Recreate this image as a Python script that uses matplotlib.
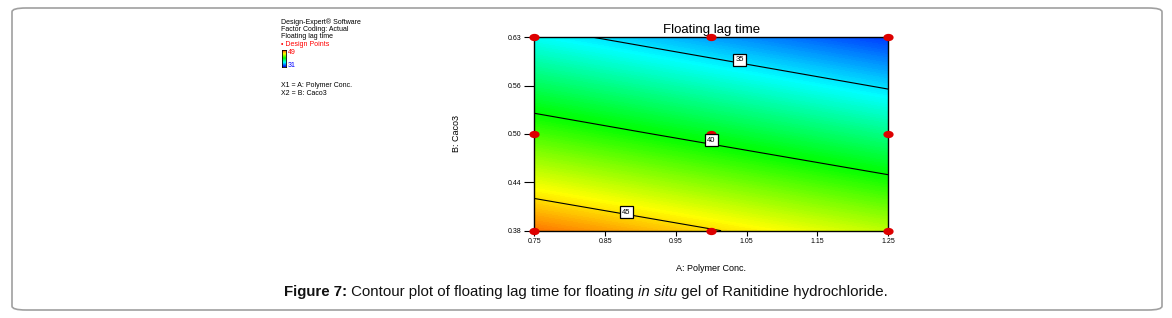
import matplotlib
matplotlib.use("Agg")
import matplotlib.pyplot as plt
import numpy as np
from matplotlib.colors import LinearSegmentedColormap
from matplotlib.markers import MarkerStyle
from matplotlib.transforms import Affine2D
from matplotlib.patches import FancyBboxPatch

plt.rcParams['font.family'] = ['Liberation Sans', 'DejaVu Sans']

# design points (A: polymer conc., B: Caco3) and lag time read at them
polymer = [0.75, 1.00, 1.25]
caco3 = [0.38, 0.505, 0.63]
lag_time = np.array([[46.9, 45.1, 43.3],
                     [41.2, 39.4, 37.6],
                     [35.6, 33.8, 32.0]])  # rows = caco3, cols = polymer
levels = [35, 40, 45]
label_pos = [(1.04, 0.601), (1.0, 0.497), (0.88, 0.404)]
xticks = [0.75, 0.85, 0.95, 1.05, 1.15, 1.25]
yticks = [0.38, 0.4425, 0.505, 0.5675, 0.63]
ytick_labels = ['0.38', '0.44', '0.50', '0.56', '0.63']

cmap = LinearSegmentedColormap.from_list(
    'de', ['#0000ff', '#00ffff', '#00ff00', '#ffff00', '#ff0000'])

fig = plt.figure(figsize=(11.72, 3.18), dpi=100)

# rounded frame around figure + caption
frame = FancyBboxPatch((12/1172, 8/318), 1150/1172, 302/318,
                       boxstyle="round,pad=0,rounding_size=0.012",
                       transform=fig.transFigure, fill=False,
                       edgecolor='#a0a0a0', linewidth=1.2)
fig.patches.append(frame)

ax = fig.add_axes([534.3/1172, 1-230.7/318, 354/1172, 193.4/318])
ax.contourf(polymer, caco3, lag_time, levels=np.linspace(31, 49, 181),
            cmap=cmap, vmin=31, vmax=49, antialiased=False)
cs = ax.contour(polymer, caco3, lag_time, levels=levels, colors='black',
                linewidths=0.8)
for lev, (lx, ly) in zip(levels, label_pos):
    ax.text(lx, ly, str(lev), fontsize=5.5, ha='center', va='center',
            bbox=dict(boxstyle='square,pad=0.3', fc='white', ec='black', lw=0.9),
            zorder=6)

ell = MarkerStyle('o', transform=Affine2D().scale(1.5, 1.0))
A, B = np.meshgrid(polymer, caco3)
ax.scatter(A.ravel(), B.ravel(), marker=ell, s=18, color='#dd0000',
           zorder=5, clip_on=False)

ax.set_xlim(0.75, 1.25)
ax.set_ylim(0.38, 0.63)
ax.set_xticks(xticks)
ax.set_xticklabels([f'{t:.2f}' for t in xticks])
ax.set_yticks(yticks)
ax.set_yticklabels(ytick_labels)
ax.tick_params(labelsize=5, length=3.5, width=0.8, pad=2)
ax.tick_params(axis='y', length=7)
for s in ax.spines.values():
    s.set_linewidth(1.0)
ax.set_title('Floating lag time', fontsize=9.5, pad=3)
ax.set_xlabel('A: Polymer Conc.', fontsize=6.5)
ax.set_ylabel('B: Caco3', fontsize=6.5)
ax.xaxis.set_label_coords(0.5, -0.17)
ax.yaxis.set_label_coords(-0.208, 0.5)

# info block in top-left
info = ['Design-Expert\u00ae Software', 'Factor Coding: Actual', 'Floating lag time']
for i, t in enumerate(info):
    fig.text(281/1172, 1-(22+i*7.3)/318, t, fontsize=5, va='center')
fig.text(281/1172, 1-44/318, '\u2022 Design Points', fontsize=5, va='center',
         color='red')
cb_ax = fig.add_axes([282/1172, 1-67/318, 4/1172, 17/318])
cb_ax.imshow(np.linspace(31, 49, 50)[:, None], origin='lower', aspect='auto',
             cmap=cmap, extent=[0, 1, 0, 1])
cb_ax.set_xticks([])
cb_ax.set_yticks([])
for s in cb_ax.spines.values():
    s.set_linewidth(0.6)
fig.text(288/1172, 1-52/318, '49', fontsize=5, va='center', color='red')
fig.text(288/1172, 1-66/318, '31', fontsize=5, va='center', color='blue')
fig.text(281/1172, 1-86/318, 'X1 = A: Polymer Conc.', fontsize=5, va='center')
fig.text(281/1172, 1-93/318, 'X2 = B: Caco3', fontsize=5, va='center')

# caption, built from pieces so bold / italic stay in Liberation Sans
pieces = [('Figure 7:', 'bold', 'normal'),
          (' Contour plot of floating lag time for floating ', 'normal', 'normal'),
          ('in situ', 'normal', 'italic'),
          (' gel of Ranitidine hydrochloride.', 'normal', 'normal')]
renderer = fig.canvas.get_renderer()
texts = []
for s, w, st in pieces:
    t = fig.text(0, 1-292/318, s, fontsize=10.8, fontweight=w, fontstyle=st,
                 va='center', color='#111111')
    texts.append(t)
widths = [t.get_window_extent(renderer).width for t in texts]
x = 586 - sum(widths)/2
for t, wd in zip(texts, widths):
    t.set_x(x/1172)
    x += wd

fig.savefig('out.png', dpi=100)
